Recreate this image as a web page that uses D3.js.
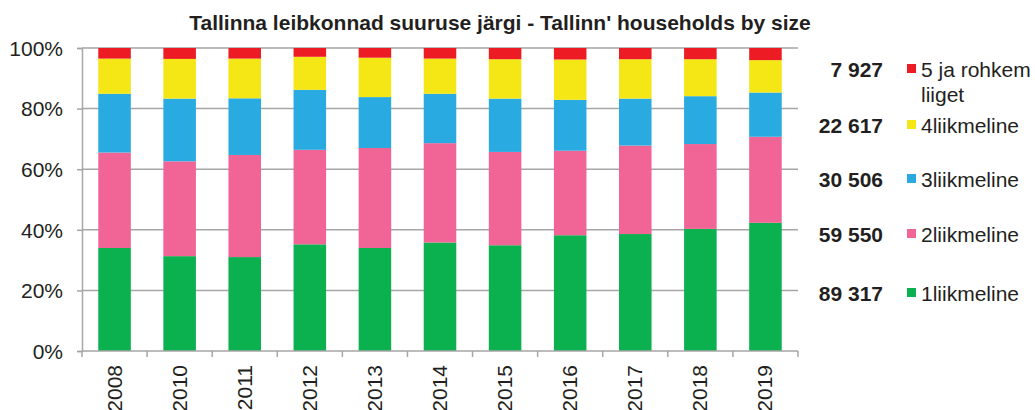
<!DOCTYPE html>
<html>
<head>
<meta charset="utf-8">
<script src="https://cdn.jsdelivr.net/npm/d3@7"></script>
<style>
body { margin: 0; background: #fff; }
text { font-family: "Liberation Sans", Arial, sans-serif; fill: #231f20; }
</style>
</head>
<body>
<svg width="1035" height="410"></svg>
<script>
// years and shares (%) per household size
var years = ["2008","2010","2011","2012","2013","2014","2015","2016","2017","2018","2019"];
var one   = [34.0, 31.3, 31.0, 35.2, 34.0, 35.8, 34.9, 38.2, 38.6, 40.3, 42.3];
var two   = [31.5, 31.3, 33.7, 31.2, 33.0, 32.8, 30.8, 27.9, 29.2, 28.0, 28.4];
var three = [19.4, 20.7, 18.7, 19.8, 16.8, 16.3, 17.6, 16.8, 15.5, 15.8, 14.6];
var four  = [11.6, 13.1, 13.1, 10.9, 13.0, 11.6, 13.0, 13.3, 13.0, 12.2, 10.7];
var five  = [ 3.5,  3.6,  3.5,  2.9,  3.2,  3.5,  3.7,  3.8,  3.7,  3.7,  4.0];

var seriesKeys = ["one","two","three","four","five"];
var seriesNames = ["1liikmeline","2liikmeline","3liikmeline","4liikmeline","5 ja rohkem liiget"];
var seriesTotals = ["89 317","59 550","30 506","22 617","7 927"];
var colors = ["#0bb04f","#f06496","#29abe2","#f5e616","#ed1c24"];
var yTicks = [0, 20, 40, 60, 80, 100];

var svg = d3.select("svg");
var mleft = 82, mright = 798, mtop = 48, mbottom = 351;

var rows = years.map(function(y, i) {
    return {year: y, one: one[i], two: two[i], three: three[i], four: four[i], five: five[i]};
});
var stack = d3.stack().keys(seriesKeys).offset(d3.stackOffsetExpand)(rows);

var x = d3.scaleBand().domain(years).range([mleft, mright]).paddingInner(0.5).paddingOuter(0.25);
var y = d3.scaleLinear().domain([0, 1]).range([mbottom, mtop]);

// title
svg.append("text")
    .attr("x", 500).attr("y", 30)
    .attr("text-anchor", "middle")
    .style("font-size", "21px").style("font-weight", "bold")
    .text("Tallinna leibkonnad suuruse järgi - Tallinn' households by size");

// grid
svg.append("g").selectAll("line").data(yTicks.slice(1)).join("line")
    .attr("x1", mleft).attr("x2", mright)
    .attr("y1", function(d) { return y(d/100); })
    .attr("y2", function(d) { return y(d/100); })
    .attr("stroke", "#a6a6a6").attr("stroke-width", 1.5);

// bars
svg.append("g").selectAll("g").data(stack).join("g")
    .attr("fill", function(d, i) { return colors[i]; })
    .selectAll("rect").data(function(d) { return d; }).join("rect")
    .attr("x", function(d) { return x(d.data.year); })
    .attr("width", x.bandwidth())
    .attr("y", function(d) { return y(d[1]); })
    .attr("height", function(d) { return y(d[0]) - y(d[1]); });

// y axis
var yAxis = svg.append("g")
    .attr("transform", "translate(" + mleft + ",0)")
    .call(d3.axisLeft(y).tickValues(yTicks.map(function(d) { return d/100; }))
        .tickFormat(function(d) { return Math.round(d*100) + "%"; })
        .tickSize(5).tickPadding(14));
yAxis.select(".domain").attr("stroke", "#a6a6a6").attr("stroke-width", 1.5);
yAxis.selectAll(".tick line").attr("stroke", "#a6a6a6").attr("stroke-width", 1.5);
yAxis.selectAll("text").style("font-size", "21px").attr("fill", "#231f20")
    .attr("font-family", null).attr("dy", "0.35em");

// x axis with ticks at band boundaries
var xAxis = svg.append("g").attr("transform", "translate(0," + mbottom + ")");
xAxis.append("line").attr("x1", mleft).attr("x2", mright)
    .attr("stroke", "#a6a6a6").attr("stroke-width", 1.5);
var step = x.step();
xAxis.selectAll(".tk").data(d3.range(years.length + 1)).join("line")
    .attr("class", "tk")
    .attr("x1", function(i) { return mleft + i*step; })
    .attr("x2", function(i) { return mleft + i*step; })
    .attr("y1", 0).attr("y2", 6)
    .attr("stroke", "#a6a6a6").attr("stroke-width", 1.5);
xAxis.selectAll("text").data(years).join("text")
    .attr("transform", function(d) {
        return "translate(" + (x(d) + x.bandwidth()/2 + 7) + ",14) rotate(-90)";
    })
    .attr("text-anchor", "end")
    .style("font-size", "21px")
    .text(function(d) { return d; });

// legend
var legY = [301, 242, 187, 133, 77];
var leg = svg.append("g");
seriesNames.forEach(function(name, i) {
    var ly = legY[i];
    leg.append("text").attr("x", 883).attr("y", ly)
        .attr("text-anchor", "end")
        .style("font-size", "21px").style("font-weight", "bold")
        .text(seriesTotals[i]);
    leg.append("rect").attr("x", 907).attr("y", ly - 13).attr("width", 9).attr("height", 9)
        .attr("fill", colors[i]);
    var t = leg.append("text").attr("x", 921).attr("y", ly).style("font-size", "21px");
    if (i == 4) {
        t.append("tspan").text("5 ja rohkem");
        t.append("tspan").attr("x", 921).attr("dy", 25).text("liiget");
    } else {
        t.text(name);
    }
});
</script>
</body>
</html>
